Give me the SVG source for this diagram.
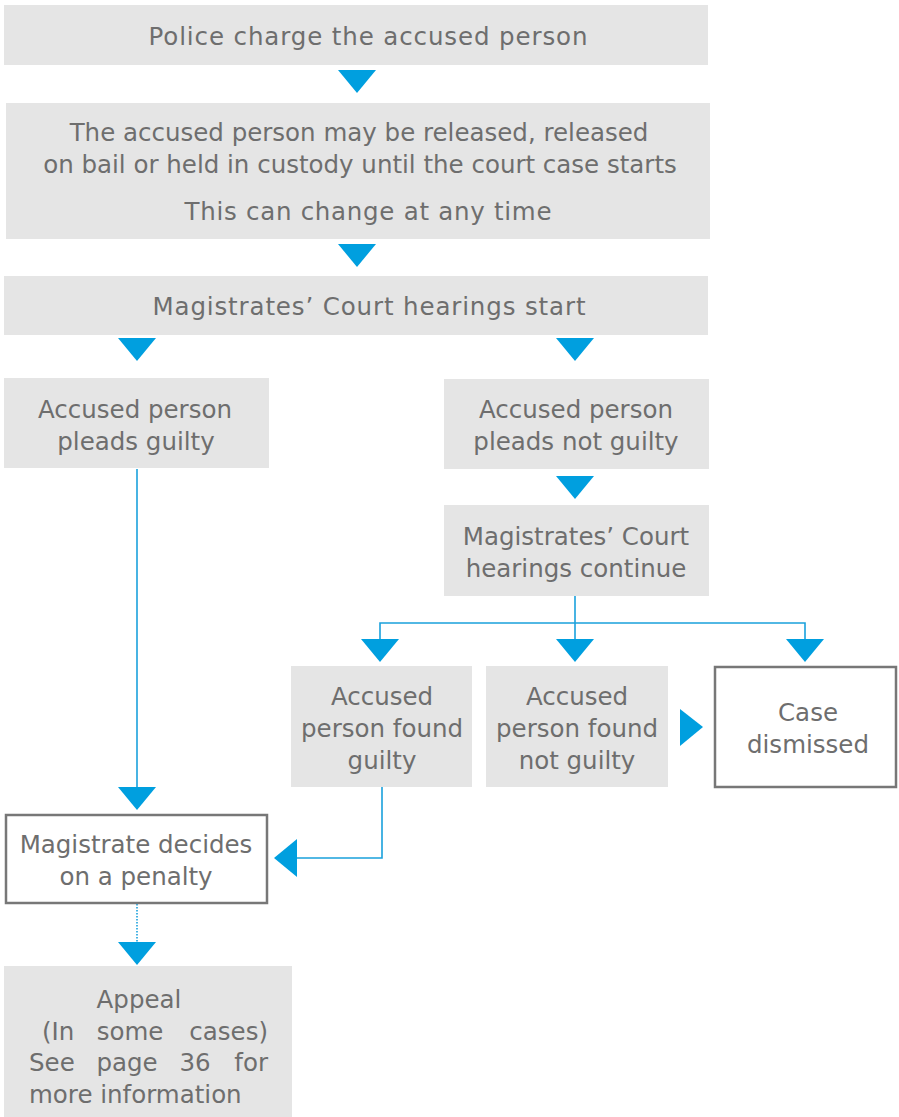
<svg xmlns="http://www.w3.org/2000/svg" width="899" height="1117" viewBox="0 0 899 1117">
<defs>
<style>
.box{fill:#e5e5e5}
.obox{fill:#ffffff;stroke:#777777;stroke-width:2.5}
.t{font-family:"DejaVu Sans","Noto Sans",sans-serif;font-size:24.5px;fill:#6e6e6e;text-anchor:middle}
.s{text-anchor:start}
.e{text-anchor:end}
.ln{fill:none;stroke:#1aa1dc;stroke-width:1.6}
.dot{fill:none;stroke:#1aa1dc;stroke-width:1.6;stroke-dasharray:1.5 1.5}
.ah{fill:#009fdf}
</style>
<path id="down" d="M-19,0 L19,0 L0,23 Z"/>
</defs>
<rect width="899" height="1117" fill="#ffffff"/>
<g id="connectors">
<line class="ln" x1="137" y1="469" x2="137" y2="788"/>
<polyline class="ln" points="575,596 575,623"/>
<polyline class="ln" points="380,640 380,623 805,623 805,640"/>
<line class="ln" x1="575" y1="623" x2="575" y2="640"/>
<polyline class="ln" points="382,787 382,858 296,858"/>
<line class="dot" x1="137" y1="895" x2="137" y2="943"/>
<use href="#down" class="ah" x="357" y="70"/>
<use href="#down" class="ah" x="357" y="244"/>
<use href="#down" class="ah" x="137" y="338"/>
<use href="#down" class="ah" x="575" y="338"/>
<use href="#down" class="ah" x="575" y="476"/>
<use href="#down" class="ah" x="380" y="639"/>
<use href="#down" class="ah" x="575" y="639"/>
<use href="#down" class="ah" x="805" y="639"/>
<use href="#down" class="ah" x="137" y="787"/>
<use href="#down" class="ah" x="137" y="942"/>
<path class="ah" d="M680,709 L703,727 L680,746 Z"/>
<path class="ah" d="M297,839 L274,858 L297,877 Z"/>
</g>
<g id="n1"><rect class="box" x="4" y="5" width="704" height="60"/>
<text class="t" x="368" y="45" textLength="439" lengthAdjust="spacing">Police charge the accused person</text></g>
<g id="n2"><rect class="box" x="6" y="103" width="704" height="136"/>
<text class="t" x="359" y="141">The accused person may be released, released</text>
<text class="t" x="360" y="173">on bail or held in custody until the court case starts</text>
<text class="t" x="368" y="220" textLength="367" lengthAdjust="spacing">This can change at any time</text></g>
<g id="n3"><rect class="box" x="4" y="276" width="704" height="59"/>
<text class="t" x="369" y="315" textLength="433" lengthAdjust="spacing">Magistrates’ Court hearings start</text></g>
<g id="n4"><rect class="box" x="4" y="378" width="265" height="90"/>
<text class="t" x="135" y="418">Accused person</text>
<text class="t" x="136" y="450">pleads guilty</text></g>
<g id="n5"><rect class="box" x="444" y="379" width="265" height="90"/>
<text class="t" x="576" y="418">Accused person</text>
<text class="t" x="576" y="450">pleads not guilty</text></g>
<g id="n6"><rect class="box" x="444" y="505" width="265" height="91"/>
<text class="t" x="576" y="545">Magistrates’ Court</text>
<text class="t" x="576" y="577">hearings continue</text></g>
<g id="n7"><rect class="box" x="291" y="666" width="181" height="121"/>
<text class="t" x="382" y="705">Accused</text>
<text class="t" x="382" y="737">person found</text>
<text class="t" x="382" y="769">guilty</text></g>
<g id="n8"><rect class="box" x="486" y="666" width="182" height="121"/>
<text class="t" x="577" y="705">Accused</text>
<text class="t" x="577" y="737">person found</text>
<text class="t" x="577" y="769">not guilty</text></g>
<g id="n9"><rect class="obox" x="715" y="667" width="181" height="120"/>
<text class="t" x="808" y="721">Case</text>
<text class="t" x="808" y="753">dismissed</text></g>
<g id="n10"><rect class="obox" x="6" y="815" width="261" height="88"/>
<text class="t" x="136" y="853">Magistrate decides</text>
<text class="t" x="136" y="885">on a penalty</text></g>
<g id="n11"><rect class="box" x="4" y="966" width="288" height="151"/>
<text class="t" x="139" y="1008">Appeal</text>
<text class="t s" x="42" y="1040">(In</text>
<text class="t" x="130" y="1040">some</text>
<text class="t e" x="268" y="1040">cases)</text>
<text class="t s" x="29" y="1071">See</text>
<text class="t" x="127" y="1071">page</text>
<text class="t" x="195" y="1071">36</text>
<text class="t e" x="268" y="1071">for</text>
<text class="t s" x="29" y="1103">more information</text></g>
</svg>
